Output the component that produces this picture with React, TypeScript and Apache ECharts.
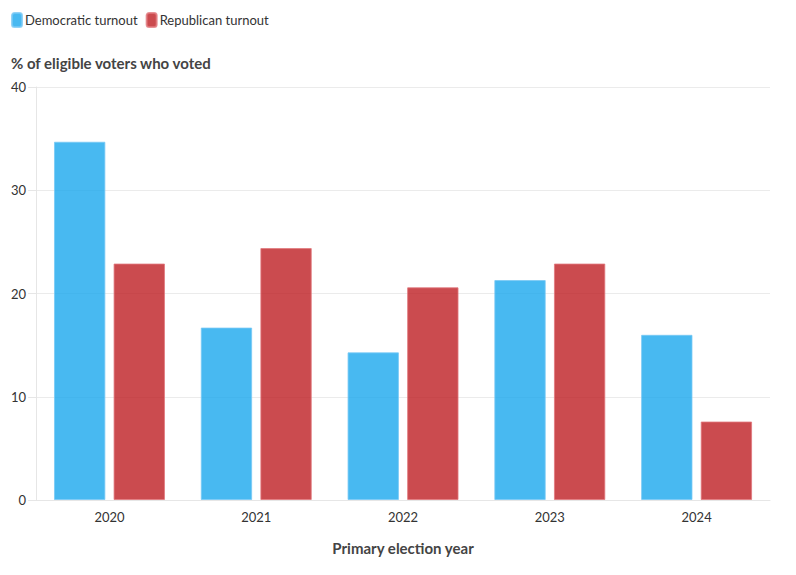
import React, { useEffect, useRef } from "react";
import * as echarts from "echarts";

const years = ["2020", "2021", "2022", "2023", "2024"];
const democratic = [34.7, 16.7, 14.3, 21.3, 16.0];
const republican = [22.9, 24.4, 20.6, 22.9, 7.6];
const yTicks = [0, 10, 20, 30, 40];

const FONT = "Lato, 'Open Sans', sans-serif";

export default function App() {
  const ref = useRef<HTMLDivElement>(null);
  useEffect(() => {
    if (!ref.current) return;
    const chart = echarts.init(ref.current, undefined, { renderer: "svg" });
    chart.setOption({
      animation: false,
      textStyle: { fontFamily: FONT },
      legend: {
        left: 3,
        top: -1,
        padding: [5, 5, 5, 0],
        icon: "roundRect",
        itemWidth: 10,
        itemHeight: 14,
        itemGap: 8,
        textStyle: { fontSize: 13, color: "#333", fontFamily: FONT, padding: [0, 0, 0, -2] },
        data: ["Democratic turnout", "Republican turnout"],
      },
      graphic: [
        {
          type: "text",
          left: 3,
          top: 47,
          style: {
            text: "% of eligible voters who voted",
            font: `bold 15px ${FONT}`,
            fill: "#444",
          },
        },
      ],
      grid: { left: 28, right: 18, top: 79, bottom: 67 },
      xAxis: {
        type: "category",
        data: years,
        name: "Primary election year",
        nameLocation: "middle",
        nameGap: 40,
        nameTextStyle: { fontSize: 15, fontWeight: "bold", color: "#444", fontFamily: FONT },
        axisLine: { lineStyle: { color: "#e6e6e6" } },
        axisTick: { alignWithLabel: true, length: 6, lineStyle: { color: "#e6e6e6" } },
        axisLabel: { fontSize: 13, color: "#333", margin: 10, fontFamily: FONT },
      },
      yAxis: {
        type: "value",
        min: yTicks[0],
        max: yTicks[yTicks.length - 1],
        interval: 10,
        axisLine: { show: true, lineStyle: { color: "#e6e6e6" } },
        axisTick: { show: true, length: 8, lineStyle: { color: "#e6e6e6" } },
        axisLabel: { fontSize: 13, color: "#333", margin: 10, fontFamily: FONT },
        splitLine: { lineStyle: { color: "#ebebeb" } },
      },
      series: [
        {
          name: "Democratic turnout",
          type: "bar",
          data: democratic,
          barWidth: "35%",
          barGap: "16%",
          itemStyle: {
            color: "rgba(26,167,238,0.8)",
            borderColor: "rgba(120,200,245,0.8)",
            borderWidth: 1,
          },
        },
        {
          name: "Republican turnout",
          type: "bar",
          data: republican,
          barWidth: "35%",
          itemStyle: {
            color: "rgba(190,30,35,0.8)",
            borderColor: "rgba(225,120,125,0.8)",
            borderWidth: 1,
          },
        },
      ],
      color: ["#1aa7ee", "#c42126"],
    });
    return () => chart.dispose();
  }, []);
  return <div ref={ref} style={{ width: 780, height: 559 }} />;
}
